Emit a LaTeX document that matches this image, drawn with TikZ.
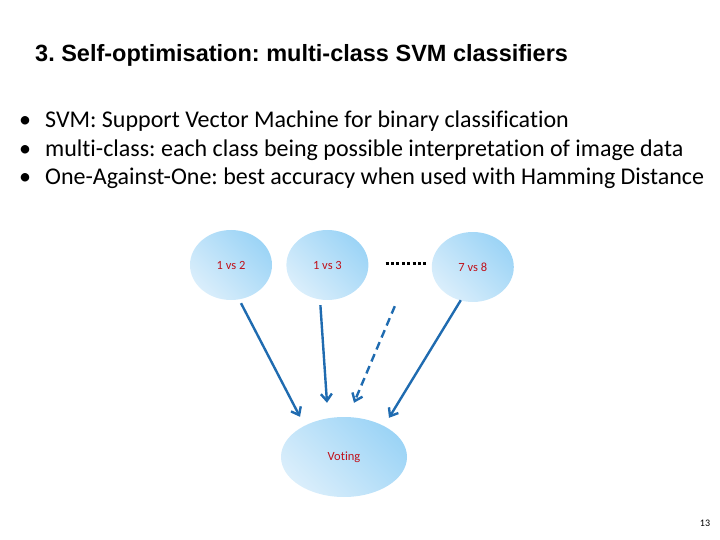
\documentclass[tikz,border=0pt]{standalone}
\usepackage{fontspec}
\setmainfont[Ligatures=NoCommon]{Carlito}
\newfontfamily\titlefont{Liberation Sans}
\usepackage{tikz}
\usetikzlibrary{shapes.geometric, arrows.meta, positioning, calc}
\definecolor{arrowblue}{HTML}{1F6BB0}
\definecolor{svmred}{HTML}{C0101A}
\definecolor{ballhi}{HTML}{9CD4F6}
\definecolor{balllo}{HTML}{DAEEFB}
\frenchspacing

\begin{document}
\begin{tikzpicture}[x=1pt, y=-1pt,
        svm/.style={ellipse, minimum width=82pt, minimum height=70pt, inner sep=0pt,
            left color=balllo, right color=ballhi, shading angle=135, font=\fontsize{12.5}{14}\selectfont, text=svmred},
        arrow/.style={arrowblue, line width=2.4pt, -{Straight Barb[length=7pt, width=11pt, line width=2.4pt]}},
        bullet/.style={anchor=west, font=\fontsize{24}{28}\selectfont, inner sep=0pt}
    ]
        \useasboundingbox (0,0) rectangle (720,540);

        % Title and bullets
        \node[anchor=west, font=\titlefont\bfseries\fontsize{23.5}{27}\selectfont, inner sep=0pt] (title) at (35,55) {3. Self-optimisation: multi-class SVM classifiers};
        \node[bullet] (b1) at (19,121) {\textbullet\hspace{14pt}SVM: Support Vector Machine for binary classification};
        \node[bullet] (b2) at (19,150) {\textbullet\hspace{14pt}multi-class: each class being possible interpretation of image data};
        \node[bullet] (b3) at (19,178) {\textbullet\hspace{14pt}One-Against-One: best accuracy when used with Hamming Distance};

        % Classifiers
        \node[svm] (n12) at (231,265) {1 vs 2};
        \node[svm, right=14pt of n12] (n13) {1 vs 3};
        \node[svm, right=63pt of n13, yshift=-2pt] (n78) {7 vs 8};
        \node[svm, minimum width=126pt, minimum height=80pt] (vote) at (344,457) {Voting};

        % Dots
        \draw[line width=3pt, dash pattern=on 3pt off 2.4pt] ($(n13.east)+(17,-2)$) -- ($(n78.west)+(-6,-4)$);

        % Arrows
        \draw[arrow] ($(n12.south)+(10,3)$) -- ($(vote.north)+(-44,0)$);
        \draw[arrow] ($(n13.south)+(-7,5)$) -- ($(vote.north)+(-17,-14)$);
        \draw[arrow, dash pattern=on 8pt off 5pt] ($(n78.south)+(-78,4)$) -- ($(vote.north)+(10,-14)$);
        \draw[arrow] ($(n78.south)+(-12,-2)$) -- ($(vote.north)+(45,1)$);

        % Page number
        \node[font=\fontsize{10}{11}\selectfont] (page) at (705,523) {13};
    \end{tikzpicture}
\end{document}
